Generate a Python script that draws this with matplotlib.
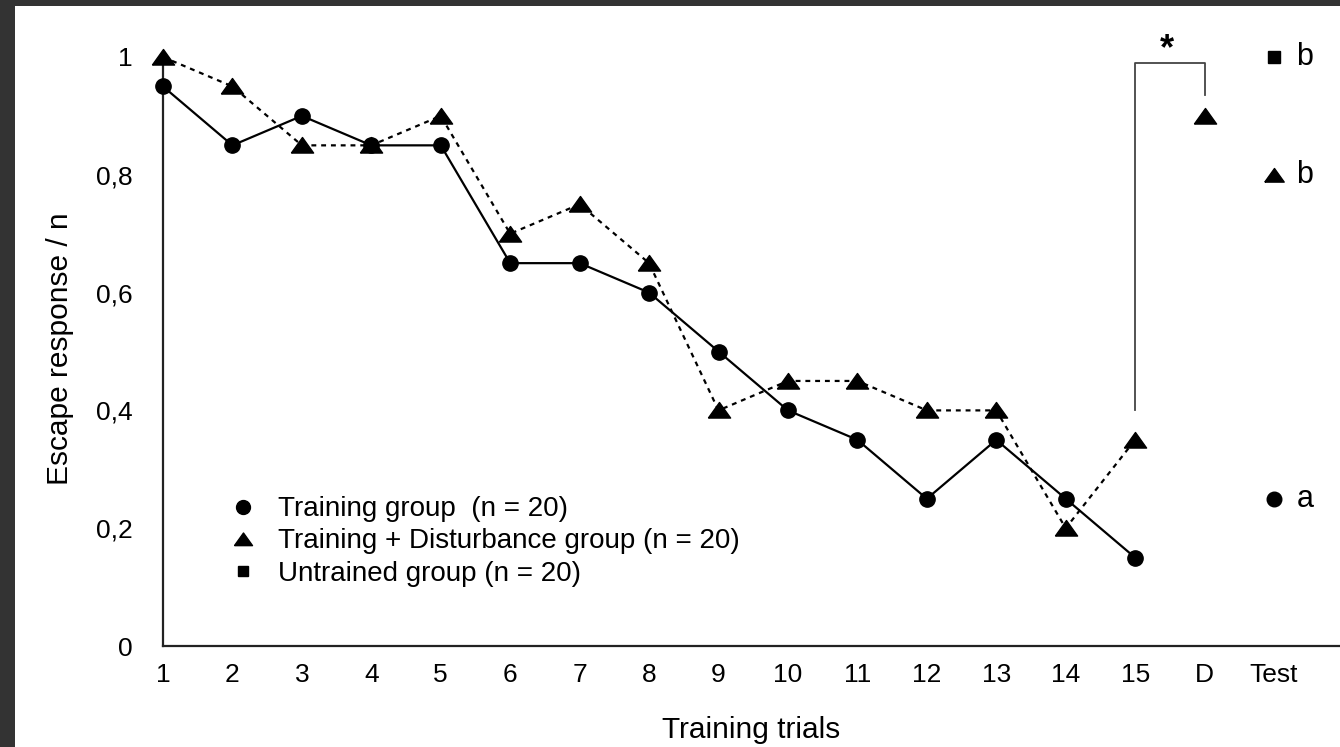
import matplotlib
matplotlib.use("Agg")
import matplotlib.pyplot as plt
from matplotlib.lines import Line2D
from matplotlib.patches import Rectangle

plt.rcParams['font.family'] = ['Liberation Sans', 'DejaVu Sans']

# ---- data ----
trials = list(range(1, 16))
training = [0.95, 0.85, 0.90, 0.85, 0.85, 0.65, 0.65, 0.60, 0.50, 0.40, 0.35, 0.25, 0.35, 0.25, 0.15]
disturb = [1.00, 0.95, 0.85, 0.85, 0.90, 0.70, 0.75, 0.65, 0.40, 0.45, 0.45, 0.40, 0.40, 0.20, 0.35]
disturb_D = 0.90
test_training = 0.25
test_disturb = 0.80
test_untrained = 1.00
test_letters = ['a', 'b', 'b']  # training, disturbance, untrained
xtick_pos = list(range(1, 18))
xtick_labels = [str(i) for i in range(1, 16)] + ['D', 'Test']
ytick_pos = [0, 0.2, 0.4, 0.6, 0.8, 1.0]
ytick_labels = ['0', '0,2', '0,4', '0,6', '0,8', '1']
bracket_x = [15, 15, 16, 16]
bracket_y = [0.40, 0.99, 0.99, 0.935]

# flattened triangle marker like the original
TRI = [(-1, -0.68), (1, -0.68), (0, 0.72), (-1, -0.68)]

fig = plt.figure(figsize=(13.4, 7.47), dpi=100, facecolor='#333333')
fig.patches.append(Rectangle((15/1340, 0), 1 - 15/1340, (747 - 6)/747,
                             transform=fig.transFigure, facecolor='white',
                             edgecolor='none', zorder=-10))

ax = fig.add_axes([163/1340, 101/747, 1 - 163/1340, 589/747])
ax.set_zorder(5)
ax.patch.set_visible(False)

ax.plot(trials, training, color='black', lw=1.6, marker='o', ms=11, clip_on=False, zorder=3)
ax.plot(trials, disturb, color='black', lw=1.6, ls=(0, (2.2, 2.2)), marker=TRI, ms=16,
        clip_on=False, zorder=4)
ax.plot([16], [disturb_D], color='black', marker=TRI, ms=16, ls='none', clip_on=False, zorder=4)

# Test points
ax.plot([17], [test_training], 'o', color='black', ms=10.5, clip_on=False)
ax.plot([17], [test_disturb], marker=TRI, color='black', ms=14, ls='none', clip_on=False)
ax.plot([17], [test_untrained], 's', color='black', ms=9, clip_on=False)
for yv, lab in zip([test_training, test_disturb, test_untrained], test_letters):
    ax.text(17.32, yv, lab, fontsize=22, va='center', ha='left')

# significance bracket
ax.plot(bracket_x, bracket_y, color='#444444', lw=1.3, clip_on=False)
ax.text(15.46, 0.983, '*', fontsize=26, fontweight='bold', ha='center', va='bottom')

ax.set_xlim(1, 17.95)
ax.set_ylim(0, 1.0)
ax.set_xticks(xtick_pos)
ax.set_xticklabels(xtick_labels)
ax.set_yticks(ytick_pos)
ax.set_yticklabels(ytick_labels)
ax.tick_params(axis='both', length=0, labelsize=19)
ax.tick_params(axis='x', pad=12)
ax.tick_params(axis='y', pad=22)

for s in ['top', 'right']:
    ax.spines[s].set_visible(False)
for s in ['left', 'bottom']:
    ax.spines[s].set_linewidth(1.6)
    ax.spines[s].set_color('#222222')

ax.text(0.4996, -0.1426, 'Training trials', transform=ax.transAxes, fontsize=21.5,
        ha='center', va='center')
ax.text(-0.0875, 0.505, 'Escape response / n', transform=ax.transAxes, fontsize=21.5,
        ha='center', va='center', rotation=90)

handles = [
    Line2D([], [], color='black', marker='o', ls='none', ms=10),
    Line2D([], [], color='black', marker=TRI, ls='none', ms=13),
    Line2D([], [], color='black', marker='s', ls='none', ms=7.5),
]
labels = ['Training group  (n = 20)', 'Training + Disturbance group (n = 20)',
          'Untrained group (n = 20)']
ax.legend(handles, labels, loc='upper left', bbox_to_anchor=(0.0467, 0.273),
          frameon=False, fontsize=20, handlelength=1.0, handletextpad=0.75,
          labelspacing=0.22, borderaxespad=0)

fig.savefig('out.png', dpi=100, facecolor=fig.get_facecolor())
